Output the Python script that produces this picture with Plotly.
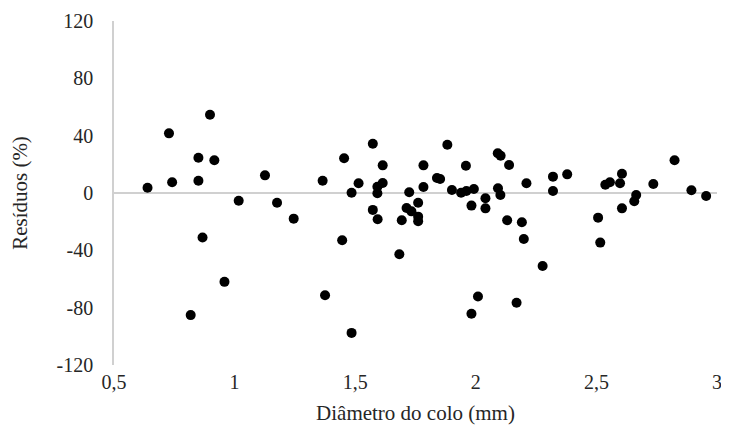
import plotly.graph_objects as go

# Diâmetro do colo (mm)
diametro = [0.639, 0.728, 0.741, 0.850, 0.850, 0.898, 0.916, 1.126, 1.017, 1.176,
            1.245, 0.867, 0.958, 0.818, 1.365, 1.454, 1.485, 1.514, 1.573, 1.592,
            1.592, 1.614, 1.614, 1.724, 1.783, 1.783, 1.839, 1.852, 1.882, 1.901,
            1.939, 1.961, 1.992, 1.959, 2.091, 2.103, 2.092, 2.138, 2.040, 2.102,
            1.573, 1.593, 1.446, 1.375, 1.485, 1.761, 1.713, 1.733, 1.761, 1.761,
            1.693, 1.683, 1.982, 2.040, 2.130, 2.009, 1.982, 2.169, 2.210, 2.320,
            2.320, 2.379, 2.537, 2.556, 2.606, 2.598, 2.736, 2.824, 2.894, 2.955,
            2.665, 2.657, 2.606, 2.507, 2.516, 2.191, 2.199, 2.277]

# Resíduos (%)
residuos = [3.7, 41.6, 7.5, 24.6, 8.6, 54.6, 22.8, 12.3, -5.4, -6.8,
            -17.9, -31.1, -62.0, -85.2, 8.6, 24.2, 0.2, 6.8, 34.4, 4.4,
            -0.2, 19.3, 7.0, 0.5, 19.3, 4.2, 10.5, 9.8, 33.7, 2.1,
            0.2, 1.4, 2.8, 19.0, 27.7, 26.0, 3.3, 19.5, -3.7, -1.4,
            -11.8, -18.3, -33.0, -71.3, -97.6, -6.8, -10.5, -12.8, -16.5, -19.7,
            -19.0, -42.7, -8.8, -10.7, -19.0, -72.2, -84.3, -76.6, 6.8, 11.4,
            1.4, 13.0, 5.8, 7.5, 13.4, 6.8, 6.3, 22.8, 1.9, -2.1,
            -1.4, -5.8, -10.7, -17.2, -34.6, -20.4, -32.1, -50.9]

x_tickvals = [0.5, 1, 1.5, 2, 2.5, 3]
x_ticktext = ["0,5", "1", "1,5", "2", "2,5", "3"]
y_tickvals = [-120, -80, -40, 0, 40, 80, 120]
y_ticktext = ["-120", "-80", "-40", "0", "40", "80", "120"]

font_family = "Liberation Serif"
txt_color = "#262626"

fig = go.Figure()
fig.add_trace(go.Scatter(
    x=diametro, y=residuos, mode="markers",
    marker=dict(color="black", size=10, line=dict(width=0)),
    showlegend=False,
))

# page body has an 8px margin, so the figure is sized / offset to compensate
fig.update_layout(
    width=713, height=417,
    margin=dict(l=106, r=4, t=13, b=60),
    paper_bgcolor="white", plot_bgcolor="white",
    font=dict(family=font_family, size=20, color=txt_color),
    xaxis=dict(
        range=[0.5, 3.0], tickvals=x_tickvals, ticktext=x_ticktext,
        showgrid=False, zeroline=False, showline=False, ticks="",
        automargin=False, ticklabeloverflow="allow",
        ticklabelstandoff=3,
        title=dict(text="Diâmetro do colo (mm)", standoff=14,
                   font=dict(family=font_family, size=21, color=txt_color)),
        tickfont=dict(family=font_family, size=20, color=txt_color),
    ),
    yaxis=dict(
        range=[-120, 120], tickvals=y_tickvals, ticktext=y_ticktext,
        showgrid=False, zeroline=True, zerolinecolor="#d0d0d0", zerolinewidth=1.5,
        showline=True, linecolor="#d0d0d0", linewidth=1.5, ticks="",
        automargin=False, ticklabeloverflow="allow",
        ticklabelstandoff=15,
        title=dict(text="Resíduos (%)", standoff=28,
                   font=dict(family=font_family, size=21, color=txt_color)),
        tickfont=dict(family=font_family, size=20, color=txt_color),
    ),
)

fig.write_html("out.html")
